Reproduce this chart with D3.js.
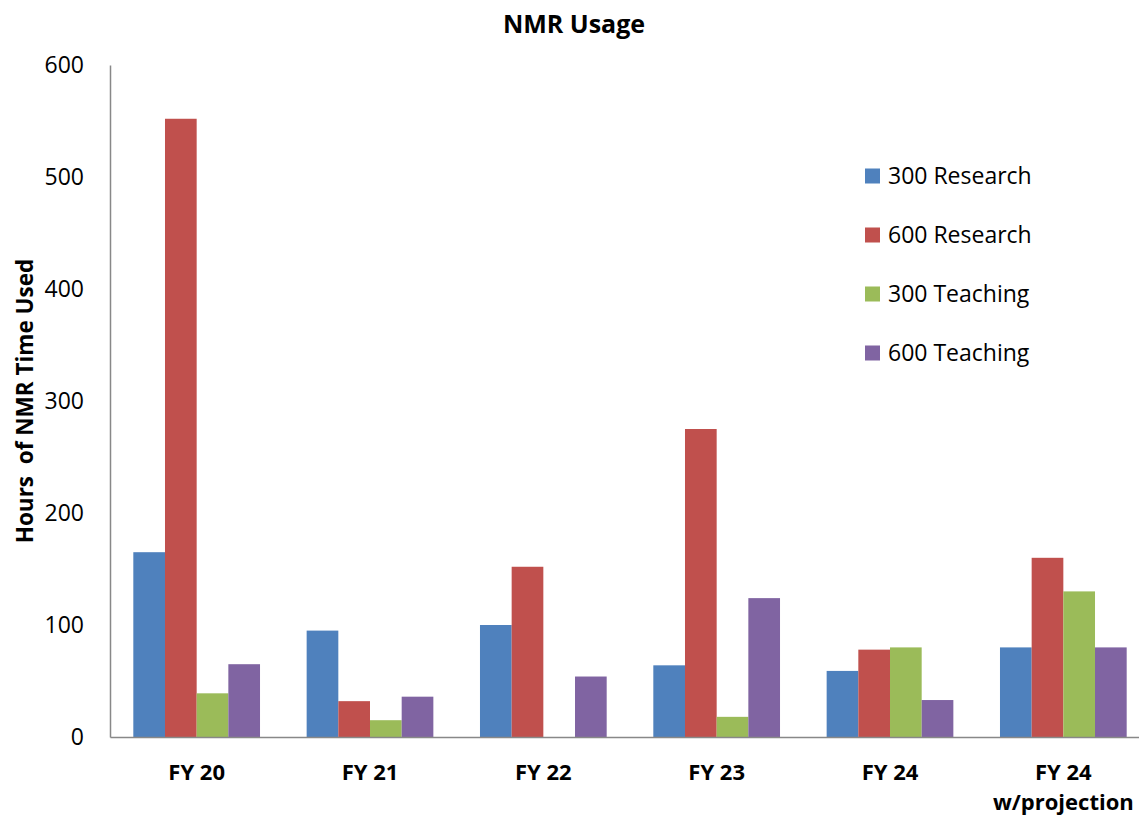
<!DOCTYPE html>
<html>
<head>
<meta charset="utf-8">
<script src="https://cdn.jsdelivr.net/npm/d3@7"></script>
<style>
  html, body { margin: 0; padding: 0; background: #fff; }
  svg { display: block; font-family: "Open Sans", Lato, sans-serif; }
</style>
</head>
<body>
<svg id="chart" width="1139" height="816"></svg>
<script>
// NMR usage hours per fiscal year, by instrument and purpose
const categories = ["FY 20", "FY 21", "FY 22", "FY 23", "FY 24", "FY 24\nw/projection"];
const seriesNames = ["300 Research", "600 Research", "300 Teaching", "600 Teaching"];
const research300 = [165, 95, 100, 64, 59, 80];
const research600 = [552, 32, 152, 275, 78, 160];
const teaching300 = [39, 15, 0, 18, 80, 130];
const teaching600 = [65, 36, 54, 124, 33, 80];
const yTicks = [0, 100, 200, 300, 400, 500, 600];
const seriesColors = ["#4F81BD", "#C0504D", "#9BBB59", "#8064A2"];

const seriesValues = [research300, research600, teaching300, teaching600];

const svg = d3.select("#chart");

const x0 = d3.scaleBand().domain(categories).range([110, 1150]).padding(0);
const gap = x0.bandwidth() * 0.1345;
const x1 = d3.scaleBand().domain(seriesNames).range([gap, x0.bandwidth() - gap]).padding(0);
const y = d3.scaleLinear().domain([0, 600]).range([737, 65]);
const color = d3.scaleOrdinal().domain(seriesNames).range(seriesColors);

// bars
const groups = svg.append("g")
  .selectAll("g")
  .data(categories)
  .join("g")
  .attr("transform", d => `translate(${x0(d)},0)`);

groups.selectAll("rect")
  .data((c, i) => seriesNames.map((s, k) => ({ s, v: seriesValues[k][i] })))
  .join("rect")
  .attr("x", d => x1(d.s))
  .attr("y", d => y(d.v))
  .attr("width", x1.bandwidth())
  .attr("height", d => y(0) - y(d.v))
  .attr("fill", d => color(d.s));

// y axis
const yAxis = svg.append("g")
  .attr("transform", "translate(110,0)")
  .call(d3.axisLeft(y).tickValues(yTicks).tickSize(0).tickPadding(26));
yAxis.select(".domain").attr("stroke", "#888").attr("stroke-width", 1.5);
yAxis.selectAll("text")
  .attr("font-family", "'Open Sans', sans-serif")
  .attr("font-size", 23)
  .attr("fill", "#000");

// x axis
const xAxis = svg.append("g")
  .attr("transform", `translate(0,${y(0)})`)
  .call(d3.axisBottom(x0).tickSize(0).tickFormat(""));
xAxis.select(".domain").attr("stroke", "#888").attr("stroke-width", 1.5);

// category labels (two lines where needed)
const catLabels = svg.append("g")
  .selectAll("text")
  .data(categories)
  .join("text")
  .attr("x", d => x0(d) + x0.bandwidth() / 2)
  .attr("y", 780)
  .attr("text-anchor", "middle")
  .attr("font-weight", "bold")
  .attr("font-size", 22)
  .attr("fill", "#000");
catLabels.selectAll("tspan")
  .data(d => d.split("\n").map((line, i) => ({ line, i, d })))
  .join("tspan")
  .attr("x", t => x0(t.d) + x0.bandwidth() / 2)
  .attr("dy", t => t.i === 0 ? 0 : 30)
  .text(t => t.line);

// title
svg.append("text")
  .attr("x", 574)
  .attr("y", 33)
  .attr("text-anchor", "middle")
  .attr("font-weight", "bold")
  .attr("font-size", 25)
  .text("NMR Usage");

// y axis title
svg.append("text")
  .attr("transform", "translate(33,401) rotate(-90)")
  .attr("text-anchor", "middle")
  .attr("font-weight", "bold")
  .attr("font-size", 22.5)
  .attr("xml:space", "preserve")
  .style("white-space", "pre")
  .text("Hours  of NMR Time Used");

// legend
const legend = svg.append("g")
  .selectAll("g")
  .data(seriesNames)
  .join("g")
  .attr("transform", (d, i) => `translate(865,${176 + i * 59})`);
legend.append("rect")
  .attr("x", 0).attr("y", -7.5)
  .attr("width", 15).attr("height", 15)
  .attr("fill", d => color(d));
legend.append("text")
  .attr("x", 23).attr("y", 0)
  .attr("dy", "0.36em")
  .attr("font-size", 23)
  .attr("fill", "#000")
  .text(d => d);
</script>
</body>
</html>
